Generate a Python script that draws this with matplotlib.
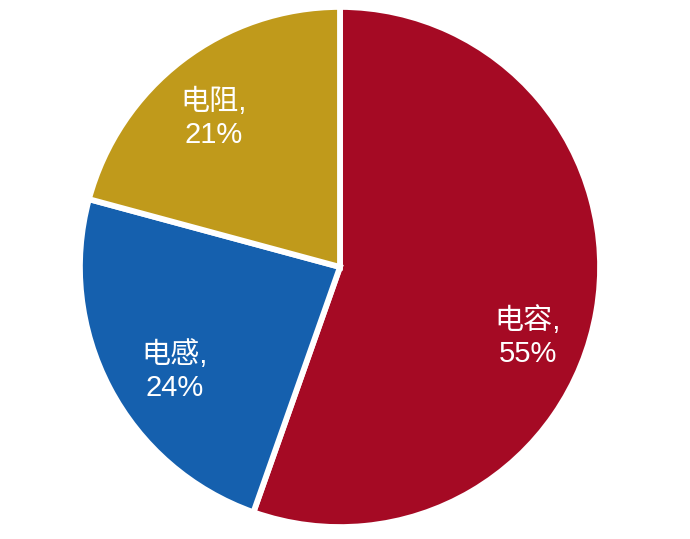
import matplotlib
matplotlib.use("Agg")
import matplotlib.pyplot as plt
import numpy as np

categories = ["电容", "电感", "电阻"]
values = [55.4, 23.8, 20.8]          # wedge sizes as drawn
pct_labels = ["55%", "24%", "21%"]   # labels as printed
colors = ["#A50A24", "#1560AE", "#C09A1B"]

fig = plt.figure(figsize=(6.9, 5.39), dpi=100)
ax = fig.add_axes([83/690, 15/539, 514/690, 514/539])

wedges, _ = ax.pie(values, colors=colors, startangle=90, counterclock=False,
                   wedgeprops=dict(edgecolor="white", linewidth=4.2), radius=1.012)
ax.set_xlim(-1, 1)
ax.set_ylim(-1, 1)
ax.set_aspect("equal")
ax.axis("off")

# label placement (angle in degrees, radius fraction)
label_pos = [(-20.5, 0.78), (-147.8, 0.76), (130.4, 0.76)]
for cat, p, (ang, r) in zip(categories, pct_labels, label_pos):
    a = np.deg2rad(ang)
    ax.text(r*np.cos(a), r*np.sin(a), f"{cat},\n{p}", ha="center", va="center",
            color="white", fontsize=21, family=["Liberation Sans", "Noto Sans CJK SC"],
            linespacing=1.2)

fig.savefig("out.png", dpi=100)
